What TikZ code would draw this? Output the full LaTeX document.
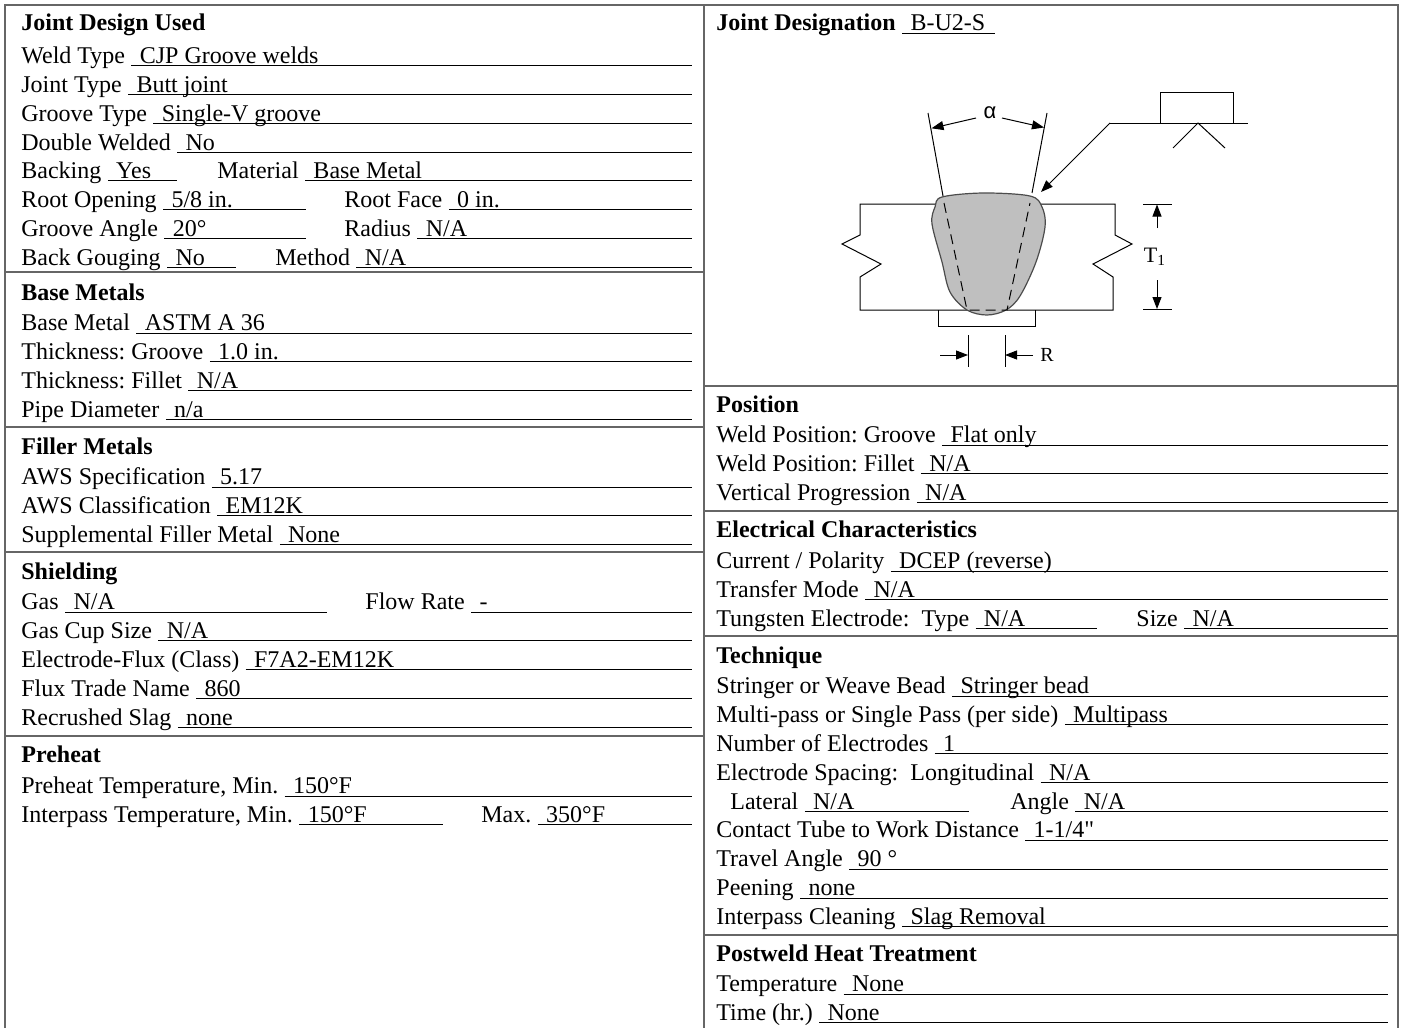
\documentclass[tikz,border=0pt]{standalone}
\usepackage{fontspec}
\setmainfont{Liberation Serif}[Ligatures=TeXOff]
\newfontfamily\alphafont{Liberation Sans}
\usetikzlibrary{arrows.meta}
\frenchspacing

\newcommand{\field}[6]{%
	\node[lbl] (#1) at (#2,#3) {#4};
	\node[lbl] (#1-v) at ([xshift=7pt]#1.base east) {#5};
	\coordinate (#1-e) at (#6,#3);
	\draw[uline] ([shift={(3pt,-1.25pt)}]#1.base east) -- ([yshift=-1.25pt]#1-e);
}

\begin{document}
\begin{tikzpicture}[
		x=0.5pt, y=-0.5pt,
		lbl/.style={anchor=base west, inner sep=0pt, font=\fontsize{12}{14}\selectfont},
		head/.style={lbl, font=\fontsize{12}{14}\selectfont\bfseries},
		uline/.style={line width=0.5pt},
		frame/.style={draw=black!60, line width=0.8pt},
		part/.style={line width=0.5pt},
		weld/.style={fill=black!25, draw=black!70, line width=0.6pt},
		fusion/.style={line width=0.5pt, dash pattern=on 5pt off 3pt},
		dim/.style={line width=0.5pt, -{Triangle[length=6pt,width=4.5pt]}}
	]
	\useasboundingbox (0,0) rectangle (1401,1028);

	\draw[frame] (5,1028) -- (5,5) -- (1398,5) -- (1398,1028);
	\draw[frame] (704,5) -- (704,1028);
	\foreach \y in {272,427,552,736} \draw[frame] (5,\y) -- (704,\y);
	\foreach \y in {386,511,636,935} \draw[frame] (704,\y) -- (1398,\y);

	% left column
	\node[head] (jdu) at (21,31) {Joint Design Used};
	\field{weldtype}{21}{63}{Weld Type}{CJP Groove welds}{692}
	\field{jointtype}{21}{92}{Joint Type}{Butt joint}{692}
	\field{groovetype}{21}{121}{Groove Type}{Single-V groove}{692}
	\field{dblweld}{21}{150}{Double Welded}{No}{692}
	\field{backing}{21}{178}{Backing}{Yes}{177}
	\field{material}{217}{178}{Material}{Base Metal}{692}
	\field{rootopen}{21}{207}{Root Opening}{5/8 in.}{306}
	\field{rootface}{344}{207}{Root Face}{0 in.}{692}
	\field{grooveang}{21}{236}{Groove Angle}{20°}{306}
	\field{radius}{344}{236}{Radius}{N/A}{692}
	\field{gouging}{21}{265}{Back Gouging}{No}{236}
	\field{method}{275}{265}{Method}{N/A}{692}

	\node[head] (basemetals) at (21,300) {Base Metals};
	\field{basemetal}{21}{330.5}{Base Metal}{ASTM A 36}{692}
	\field{thkgroove}{21}{359.4}{Thickness: Groove}{1.0 in.}{692}
	\field{thkfillet}{21}{388.2}{Thickness: Fillet}{N/A}{692}
	\field{pipedia}{21}{417}{Pipe Diameter}{n/a}{692}

	\node[head] (fillermetals) at (21,454) {Filler Metals};
	\field{awsspec}{21}{484.5}{AWS Specification}{5.17}{692}
	\field{awsclass}{21}{513.4}{AWS Classification}{EM12K}{692}
	\field{suppl}{21}{542.2}{Supplemental Filler Metal}{None}{692}

	\node[head] (shielding) at (21,579) {Shielding};
	\field{gas}{21}{609.5}{Gas}{N/A}{327}
	\field{flowrate}{365}{609.5}{Flow Rate}{-}{692}
	\field{gascup}{21}{638.4}{Gas Cup Size}{N/A}{692}
	\field{elflux}{21}{667.2}{Electrode-Flux (Class)}{F7A2-EM12K}{692}
	\field{fluxname}{21}{696.1}{Flux Trade Name}{860}{692}
	\field{recrushed}{21}{725}{Recrushed Slag}{none}{692}

	\node[head] (preheat) at (21,762) {Preheat};
	\field{preheattemp}{21}{793.5}{Preheat Temperature, Min.}{150°F}{692}
	\field{interpass}{21}{822.4}{Interpass Temperature, Min.}{150°F}{443}
	\field{maxtemp}{481}{822.4}{Max.}{350°F}{692}

	% right column
	\node[head] (jdesig) at (716,31) {Joint Designation};
	\node[lbl] (jdesig-v) at ([xshift=7pt]jdesig.base east) {B-U2-S};
	\coordinate (jdesig-e) at (995,31);
	\draw[uline] ([shift={(3pt,-1.25pt)}]jdesig.base east) -- ([yshift=-1.25pt]jdesig-e);

	\node[head] (position) at (716,412) {Position};
	\field{wpgroove}{716}{442.5}{Weld Position: Groove}{Flat only}{1388}
	\field{wpfillet}{716}{471.4}{Weld Position: Fillet}{N/A}{1388}
	\field{vertprog}{716}{500.2}{Vertical Progression}{N/A}{1388}

	\node[head] (electrical) at (716,537) {Electrical Characteristics};
	\field{polarity}{716}{568.5}{Current / Polarity}{DCEP (reverse)}{1388}
	\field{transfer}{716}{597.4}{Transfer Mode}{N/A}{1388}
	\field{tungsten}{716}{626.2}{Tungsten Electrode:\ \ Type}{N/A}{1097}
	\field{tsize}{1136}{626.2}{Size}{N/A}{1388}

	\node[head] (technique) at (716,663) {Technique};
	\field{bead}{716}{693.5}{Stringer or Weave Bead}{Stringer bead}{1388}
	\field{multipass}{716}{722.4}{Multi-pass or Single Pass (per side)}{Multipass}{1388}
	\field{numelec}{716}{751.2}{Number of Electrodes}{1}{1388}
	\field{spacing}{716}{780.1}{Electrode Spacing:\ \ Longitudinal}{N/A}{1388}
	\field{lateral}{730}{809}{Lateral}{N/A}{969}
	\field{angle}{1010}{809}{Angle}{N/A}{1388}
	\field{ctwd}{716}{837.8}{Contact Tube to Work Distance}{1-1/4"}{1388}
	\field{travel}{716}{866.7}{Travel Angle}{90 °}{1388}
	\field{peening}{716}{895.5}{Peening}{none}{1388}
	\field{cleaning}{716}{924.4}{Interpass Cleaning}{Slag Removal}{1388}

	\node[head] (pwht) at (716,961) {Postweld Heat Treatment};
	\field{pwtemp}{716}{991.5}{Temperature}{None}{1388}
	\field{pwtime}{716}{1020.4}{Time (hr.)}{None}{1388}

	% joint sketch
	\draw[part] (938,310) -- (938,326) -- (1035,326) -- (1035,310);
	\draw[part] (943,204) -- (860,204) -- (860,235) -- (842,244) -- (881,264) -- (860,277) -- (860,310) -- (967,310);
	\draw[part] (1033,204) -- (1115,204) -- (1115,235) -- (1132,244) -- (1093,264) -- (1113,277) -- (1113,310) -- (1007,310);
	\filldraw[weld] plot[smooth cycle, tension=0.55] coordinates {(942,197) (983,193) (1030,196) (1042,207) (1045,227) (1036,262) (1020,296) (1006,310) (987,315) (967,310) (950,292) (942,262) (932,224) (935,207)};
	\draw[fusion] (944,203) -- (967,310) -- (1007,310) -- (1030,203);

	\draw[part] (943,196) -- (928,113);
	\draw[part] (1032,193) -- (1047,113);
	\node[inner sep=0pt, font=\alphafont\fontsize{11}{12}\selectfont] (alpha) at (990,113) {α};
	\coordinate (al1) at (976,118);
	\coordinate (al2) at (1002,118);
	\draw[dim] (al1) -- (931.5,128.3);
	\draw[dim] (al2) -- (1044,127.5);

	\coordinate (refl) at (1110,123);
	\coordinate (refr) at (1248,123);
	\draw[dim] (refl) -- (1041,192);
	\draw[part] (refl) -- (refr);
	\draw[part] (1160,123) rectangle (1233,92);
	\draw[part] (1173,148) -- (1198,123) -- (1225,148);

	\draw[part] (1143,204) -- (1172,204);
	\draw[part] (1143,309.5) -- (1172,309.5);
	\draw[dim] (1157,228) -- (1157,204.5);
	\draw[dim] (1157,280) -- (1157,309);
	\node[inner sep=0pt, font=\fontsize{11}{12}\selectfont] (tone) at (1155,257) {T\textsubscript{1}};

	\draw[part] (968,335) -- (968,367);
	\draw[part] (1005,335) -- (1005,367);
	\draw[dim] (940,355) -- (968,355);
	\draw[dim] (1033,355) -- (1005,355);
	\node[inner sep=0pt, anchor=west, font=\fontsize{10}{12}\selectfont] (rlabel) at (1040,355) {R};
\end{tikzpicture}
\end{document}
